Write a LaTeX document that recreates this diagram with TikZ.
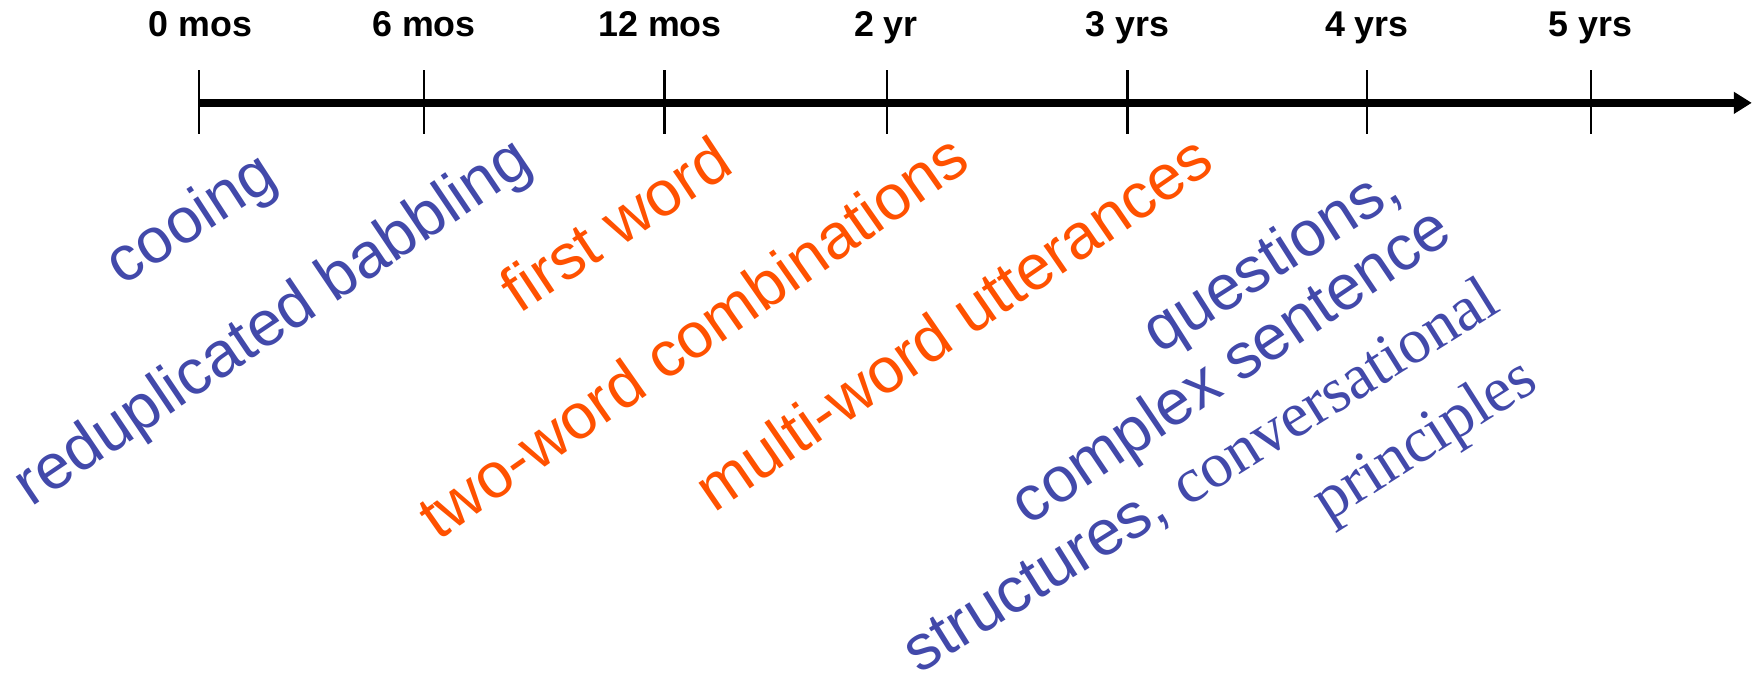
\documentclass[tikz,border=0pt]{standalone}
\usepackage{fontspec}
\setmainfont{Liberation Sans}
\newfontfamily\tms{Liberation Serif}
\usetikzlibrary{arrows.meta}
\definecolor{stageblue}{RGB}{66,73,170}
\definecolor{stageorange}{RGB}{255,81,0}
\tikzset{
  axisline/.style={line width=7.3pt,-{Triangle[length=18pt,width=21pt]}},
  tickmark/.style={line width=2.2pt},
  agelabel/.style={anchor=base,font=\fontsize{35.8}{42}\selectfont\bfseries,inner sep=0pt},
  stage/.style={anchor=center,inner sep=0pt,font=\fontsize{63.8}{74}\selectfont},
  early/.style={stage,text=stageblue},
  mid/.style={stage,text=stageorange}
}
\begin{document}
\begin{tikzpicture}[x=1.1186pt,y=1.1186pt]
\useasboundingbox (0,0) rectangle (1568,611.46);
% ticks
\foreach \n/\x in {t0/178,t6/379,t12/594,t2/793,t3/1008,t4/1222,t5/1422}{
  \coordinate (\n top) at (\x,548.5);
  \coordinate (\n bot) at (\x,491.5);
  \draw[tickmark] (\n top) -- (\n bot);
}
\coordinate (axstart) at (178,519.5);
\coordinate (axend) at (1566,519.5);
\draw[axisline] (axstart) -- (axend);
% age labels
\node[agelabel] (l0) at (179,578.5) {0 mos};
\node[agelabel] (l6) at (379,578.5) {6 mos};
\node[agelabel] (l12) at (590,578.5) {12 mos};
\node[agelabel] (l2) at (792,578.5) {2 yr};
\node[agelabel] (l3) at (1008,578.5) {3 yrs};
\node[agelabel] (l4) at (1222,578.5) {4 yrs};
\node[agelabel] (l5) at (1422,578.5) {5 yrs};
% stages
\node[early,rotate=33] (cooing) at (172,413.5) {cooing};
\node[early,rotate=34] (babbling) at (245,321.5) {reduplicated babbling};
\node[mid,rotate=33.5] (firstword) at (550,411.5) {first word};
\node[mid,rotate=35] (twoword) at (619,311.5) {two-word combinations};
\node[mid,rotate=34.5] (multiword) at (852,323.5) {multi-word utterances};
\node[early,rotate=32.5] (questions) at (1138,377) {questions,};
\node[early,rotate=34] (complex) at (1102,281.5) {complex sentence};
\node[early,rotate=32] (structures) at (1074,185) {structures, {\tms conversational}};
\node[early,rotate=32.5] (principles) at (1275,216) {\tms principles};
\end{tikzpicture}
\end{document}
